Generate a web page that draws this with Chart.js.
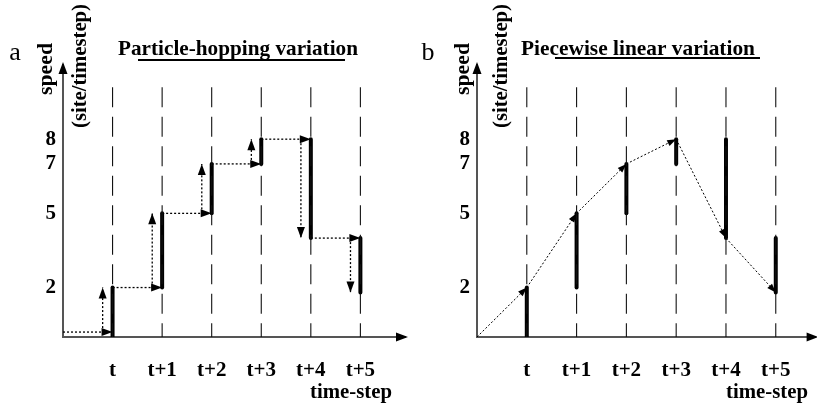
<!DOCTYPE html>
<html>
<head>
<meta charset="utf-8">
<script src="https://cdn.jsdelivr.net/npm/chart.js@4.4.1/dist/chart.umd.min.js"></script>
<style>
  body { margin: 0; background: #fff; }
  #wrap { position: relative; width: 817px; height: 409px; }
  canvas { position: absolute; top: 0; }
</style>
</head>
<body>
<div id="wrap">
  <canvas id="chartA" width="408" height="409" style="left:0"></canvas>
  <canvas id="chartB" width="409" height="409" style="left:408px"></canvas>
</div>
<script>
// time steps (t-1 sits on the speed axis)
const stepLabels = ['t', 't+1', 't+2', 't+3', 't+4', 't+5'];
const stepX = [1, 2, 3, 4, 5, 6];
const speedTicks = [2, 5, 7, 8];
const gridTop = 10.1;

// a: particle-hopping, speed jumps at each step
const startSpeed = 0.2;
const hopSpeeds = [2, 5, 7, 8, 4, 1.8];
// b: piecewise linear
const linearSpeeds = [2, 5, 7, 8, 4, 1.8];

const SERIF = '"Liberation Serif", "Times New Roman", serif';

function seg(x1, y1, x2, y2, style) {
  return Object.assign({ data: [{ x: x1, y: y1 }, { x: x2, y: y2 }], showLine: true, pointRadius: 0,
    borderColor: '#000', fill: false, tension: 0 }, style);
}

function gridLines() {
  // dashed step markers, drawn top-down so the dash starts at the top
  return stepX.map(x => seg(x, gridTop, x, 0, { borderWidth: 1.1, borderColor: '#111', borderDash: [20, 9.5] }));
}

// arrowheads at the end of flagged datasets + axis arrows
const arrowPlugin = {
  id: 'arrows',
  afterDatasetsDraw(chart) {
    const ctx = chart.ctx;
    chart.data.datasets.forEach((ds, i) => {
      if (!ds.arrow) return;
      const pts = chart.getDatasetMeta(i).data;
      const a = pts[pts.length - 2], b = pts[pts.length - 1];
      head(ctx, a.x, a.y, b.x, b.y, ds.arrow.len, ds.arrow.half);
    });
    const { left, right, top, bottom } = chart.chartArea;
    head(ctx, left, bottom, left, top - 3, 12, 4.5);
    head(ctx, left, bottom, right + 3, bottom, 12, 4.5);
  }
};

function head(ctx, x1, y1, x2, y2, len, half) {
  const ang = Math.atan2(y2 - y1, x2 - x1);
  ctx.save();
  ctx.translate(x2, y2);
  ctx.rotate(ang);
  ctx.beginPath();
  ctx.moveTo(0, 0);
  ctx.lineTo(-len, -half);
  ctx.lineTo(-len, half);
  ctx.closePath();
  ctx.fillStyle = '#000';
  ctx.fill();
  ctx.restore();
}

// text fitted to a given width (the source lettering is a bit stretched)
function fitText(ctx, str, x, y, w, font, rot) {
  ctx.save();
  ctx.font = font;
  ctx.fillStyle = '#000';
  ctx.textAlign = 'center';
  ctx.textBaseline = 'middle';
  ctx.translate(x, y);
  if (rot) ctx.rotate(rot);
  const m = ctx.measureText(str).width;
  ctx.scale(w / m, 1);
  ctx.fillText(str, 0, 0);
  ctx.restore();
}

const labelPlugin = {
  id: 'labels',
  afterDraw(chart, args, o) {
    const ctx = chart.ctx;
    ctx.save();
    ctx.font = '26px ' + SERIF;
    ctx.fillStyle = '#000';
    ctx.textAlign = 'center';
    ctx.textBaseline = 'alphabetic';
    ctx.fillText(o.letter, o.letterX, 60);
    ctx.restore();
    fitText(ctx, o.title, o.titleX, 49, o.titleW, 'bold 22px ' + SERIF);
    ctx.fillStyle = '#000';
    ctx.fillRect(o.lineX1, o.lineY, o.lineX2 - o.lineX1, 2);
    fitText(ctx, 'speed', o.speedX, 69, 52, 'bold 20px ' + SERIF, -Math.PI / 2);
    fitText(ctx, '(site/timestep)', o.siteX, 66, 124, 'bold 20px ' + SERIF, -Math.PI / 2);
    fitText(ctx, 'time-step', o.stepX, 393, 82, 'bold 21px ' + SERIF);
  }
};

function makeChart(id, datasets, leftW, xMax, padR, labels) {
  return new Chart(document.getElementById(id), {
    type: 'scatter',
    data: { datasets },
    options: {
      responsive: false,
      animation: false,
      devicePixelRatio: 1,
      layout: { padding: { top: 65, right: padR, left: 0, bottom: 0 } },
      plugins: { legend: { display: false }, tooltip: { enabled: false }, labels },
      scales: {
        x: {
          type: 'linear', min: 0, max: xMax,
          border: { display: true, color: '#555', width: 2 },
          grid: { display: false, drawTicks: false },
          afterBuildTicks: s => { s.ticks = stepX.map(v => ({ value: v })); },
          afterFit: s => { s.height = 72; },
          ticks: {
            callback: v => stepLabels[stepX.indexOf(v)] || '',
            font: { family: SERIF, size: 21, weight: 'bold' }, color: '#000',
            padding: 21, maxRotation: 0, autoSkip: false
          }
        },
        y: {
          type: 'linear', min: 0, max: 11,
          border: { display: true, color: '#555', width: 2 },
          grid: { display: false, drawTicks: false },
          afterBuildTicks: s => { s.ticks = speedTicks.map(v => ({ value: v })); },
          afterFit: s => { s.width = leftW; },
          ticks: { font: { family: SERIF, size: 21, weight: 'bold' }, color: '#000', padding: 7 }
        }
      }
    },
    plugins: [arrowPlugin, labelPlugin]
  });
}

// panel a
const dotA = { borderWidth: 1.3, borderDash: [2, 2], arrow: { len: 11, half: 4 } };
const thick = { borderWidth: 4, borderCapStyle: 'round' };
const dsA = gridLines();
hopSpeeds.forEach((v, i) => {
  const x = stepX[i];
  const prev = i === 0 ? startSpeed : hopSpeeds[i - 1];
  dsA.push(seg(x - 1, prev, x, prev, dotA));
  dsA.push(seg(x - 0.2, prev, x - 0.2, v, dotA));
  dsA.push(seg(x, i === 0 ? 0 : prev, x, v, thick));
});
makeChart('chartA', dsA, 63, 6.9, 3, {
  letter: 'a', letterX: 15, title: 'Particle-hopping variation', titleX: 238, titleW: 240,
  lineX1: 138, lineX2: 345, lineY: 59, speedX: 47, siteX: 81, stepX: 351
});

// panel b
const dotB = { borderWidth: 1, borderDash: [2, 2], arrow: { len: 9, half: 3.2 } };
const dsB = gridLines();
linearSpeeds.forEach((v, i) => {
  const x = stepX[i];
  const prev = i === 0 ? 0 : linearSpeeds[i - 1];
  dsB.push(seg(x - 1, prev, x, v, dotB));
  dsB.push(seg(x, prev, x, v, thick));
});
makeChart('chartB', dsB, 69, 6.8, 1.4, {
  letter: 'b', letterX: 20, title: 'Piecewise linear variation', titleX: 230, titleW: 234,
  lineX1: 147, lineX2: 352, lineY: 57, speedX: 56, siteX: 94, stepX: 359
});
</script>
</body>
</html>
